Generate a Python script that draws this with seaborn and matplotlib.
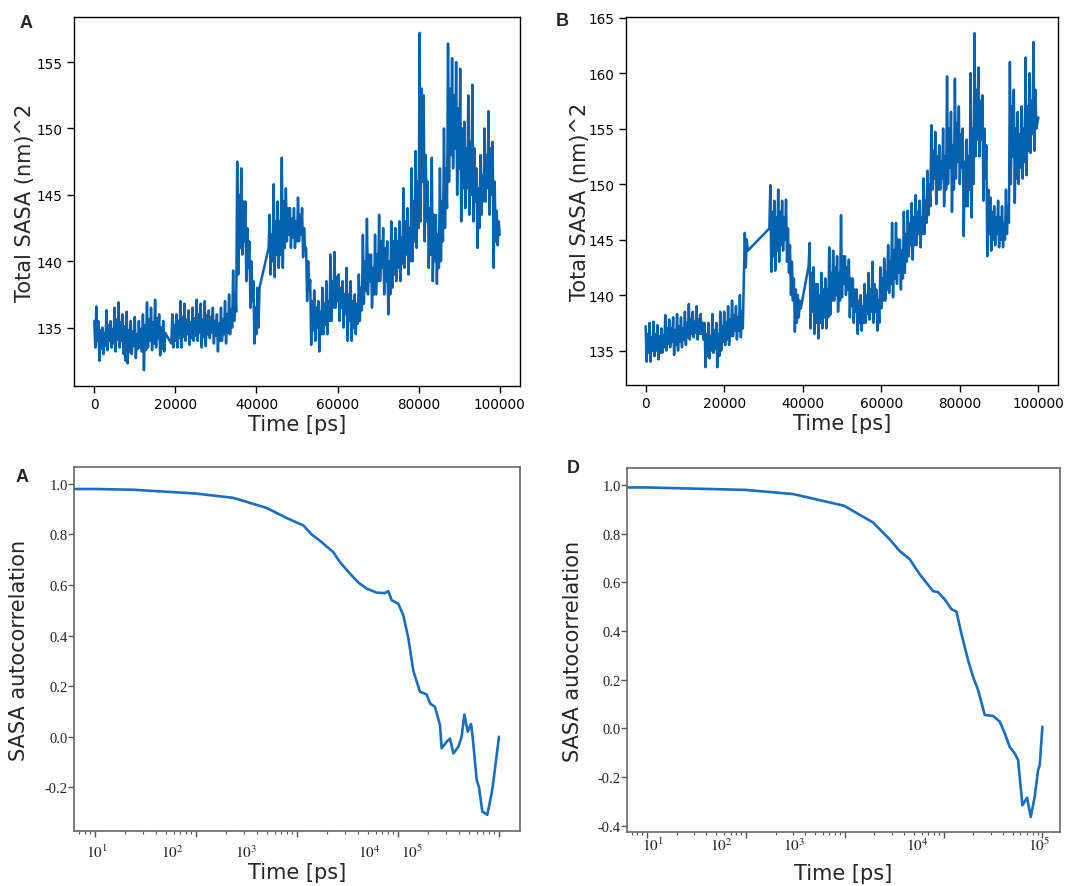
import numpy as np
import pandas as pd
import matplotlib
matplotlib.use("Agg")
import matplotlib.pyplot as plt
import matplotlib.transforms as mtransforms
import seaborn as sns
from matplotlib.ticker import FixedLocator, LogLocator, NullFormatter

# ---------------- data ----------------
# Top panels: SASA time series.
# Each segment = (start time in ns, values every 0.25 ns); gaps between segments
# are bridged by a straight line, as in the original trajectory plot.
sasa_A_seg1_start = 0.0
sasa_A_seg1 = [
    135.5, 133.5, 136.6, 134.0, 135.5, 132.5, 134.8, 133.4, 135.0, 133.0, 134.6, 133.6,
    136.3, 133.3, 135.2, 134.0, 135.5, 133.5, 134.9, 133.8, 136.5, 133.2, 135.6, 134.1,
    136.9, 133.5, 135.4, 134.0, 136.0, 133.0, 135.1, 132.5, 136.2, 132.3, 134.8, 133.2,
    135.5, 133.0, 134.7, 133.6, 135.8, 132.7, 134.5, 133.4, 135.5, 133.5, 134.9, 133.2,
    136.0, 131.8, 135.2, 133.3, 136.9, 133.5, 135.6, 134.0, 136.5, 133.3, 135.4, 133.8,
    137.1, 133.5, 135.7, 134.2, 136.0, 132.9, 135.0, 133.4, 135.5, 133.2, 134.6]
sasa_A_seg2_start = 19.0
sasa_A_seg2 = [
    133.8,
    136.0, 133.5, 135.2, 134.0, 136.0, 133.5, 135.5, 134.2, 137.0, 133.5, 135.8, 134.3,
    136.8, 134.0, 135.6, 134.5, 136.3, 133.7, 135.4, 134.2, 136.5, 134.0, 135.7, 134.4,
    137.1, 134.0, 136.0, 134.6, 136.8, 133.5, 135.6, 134.3, 137.0, 133.6, 135.9, 134.5,
    136.3, 134.2, 135.8, 134.6, 136.5, 133.8, 135.5, 134.4, 136.0, 133.2, 135.3, 134.0,
    136.5, 134.0, 135.6, 134.5, 137.0, 133.8, 136.0, 134.6, 137.5, 134.5, 136.4, 135.0,
    139.3, 135.5, 137.5, 136.2, 147.5, 139.0, 145.0, 141.0, 147.0, 140.5, 144.5, 141.5,
    144.5, 138.5, 142.5, 139.5, 141.5, 136.5, 140.0, 137.0, 138.5, 133.8, 136.5, 134.5,
    138.0, 135.0, 138.0]
sasa_A_seg3_start = 43.0
sasa_A_seg3 = [
    141.0,
    143.5, 139.0, 142.0, 140.0, 145.8, 138.8, 143.0, 140.5, 144.5, 139.5, 143.0, 140.5,
    147.8, 139.5, 144.5, 141.0, 145.5, 141.5, 144.0, 142.0, 144.0, 141.0, 143.2, 141.8,
    144.0, 141.0, 143.0, 141.5, 144.8, 141.5, 143.5, 142.0, 144.0, 140.3, 142.5, 140.8,
    141.0, 137.0, 140.0, 137.8, 138.6, 133.7, 137.0, 134.8, 137.8, 134.0, 136.5, 135.0,
    137.0, 133.2, 136.2, 134.5, 138.0, 134.5, 136.8, 135.2, 138.5, 134.5, 137.0, 135.5,
    140.5, 135.5, 138.5, 136.5, 140.7, 136.5, 138.8, 137.0, 139.0, 135.5, 138.0, 136.5,
    138.5, 135.0, 137.5, 136.0, 139.5, 134.0, 137.5, 135.5, 138.5, 134.0, 137.0, 135.0,
    137.5, 134.5, 136.8, 135.3, 139.0, 135.5, 138.0, 136.3, 142.0, 136.8, 140.0, 137.8,
    143.2, 137.5, 140.5, 138.5, 140.5, 136.5, 139.5, 137.5, 142.0, 137.5, 140.5, 138.5,
    143.5, 138.5, 141.5, 139.5, 142.5, 137.5, 141.0, 138.5, 141.5, 136.0, 140.0, 137.5,
    143.0, 138.0, 141.5, 139.0, 142.5, 138.5, 141.5, 139.5, 143.0, 138.5, 141.8, 139.8,
    145.5, 139.5, 143.0, 140.5, 144.0, 139.0, 142.5, 140.0, 147.0, 140.0, 144.5, 141.5,
    148.3, 141.0, 146.0, 142.5, 157.2, 143.0, 153.0, 146.0, 152.5, 141.5, 148.0, 143.0,
    146.0, 139.5, 144.0, 140.5, 147.8, 138.5, 143.5, 140.0, 143.5, 138.3, 142.0, 139.5,
    147.0, 140.0, 144.5, 141.5, 150.0, 142.5, 147.0, 144.0, 156.4, 146.0, 153.0, 148.0,
    155.3, 147.0, 152.5, 148.5, 155.0, 145.0, 151.5, 147.0, 154.5, 143.0, 150.0, 145.5,
    150.5, 144.0, 148.5, 145.5, 152.5, 143.5, 149.0, 145.0, 153.3, 143.0, 148.5, 144.5,
    147.0, 141.0, 145.5, 142.5, 148.0, 143.5, 146.5, 144.5, 150.0, 144.5, 148.0, 145.5,
    151.3, 143.5, 148.5, 145.0, 149.0, 139.5, 146.0, 141.5, 143.8, 141.2, 143.0, 142.0]

sasa_B_seg1_start = 0.0
sasa_B_seg1 = [
    137.2, 134.0, 136.5, 134.8, 137.5, 134.0, 136.2, 135.0, 137.6, 134.5, 136.5, 135.0,
    137.3, 134.2, 136.3, 134.8, 137.0, 134.8, 136.4, 135.3, 138.2, 135.0, 137.0, 135.6,
    137.8, 135.3, 137.0, 135.8, 138.0, 134.6, 136.8, 135.5, 138.3, 135.0, 137.2, 135.8,
    138.0, 135.3, 137.0, 136.0, 138.5, 135.5, 137.5, 136.2, 139.2, 136.0, 137.8, 136.5,
    138.5, 136.2, 137.6, 136.6, 139.0, 136.0, 137.8, 136.5, 138.3, 136.5, 137.5, 136.0,
    137.5, 133.5, 136.5, 134.5, 137.5, 134.3, 136.3, 135.0, 138.3, 134.8, 136.8, 135.2,
    137.5, 133.5, 136.5, 134.5, 138.5, 135.0, 137.2, 135.8, 138.5, 135.5, 137.5, 136.0,
    139.0, 135.5, 137.8, 136.3, 139.5, 136.3, 138.2, 136.8, 139.0, 136.0, 138.0, 136.8,
    140.0, 136.2, 138.5, 137.0, 141.5, 145.6, 142.5, 145.0, 144.0]
sasa_B_seg2_start = 31.5
sasa_B_seg2 = [
    146.0,
    149.9, 142.1, 147.5, 143.5, 148.5, 142.2, 147.0, 144.0, 149.5, 143.0, 147.5, 144.5,
    148.5, 144.0, 147.0, 145.0, 148.6, 143.0, 146.0, 142.0, 144.5, 140.0, 143.0, 139.5,
    141.5, 136.7, 140.5, 137.5, 140.0, 138.0, 139.5, 138.8]
sasa_B_seg3_start = 41.5
sasa_B_seg3 = [
    142.6,
    144.7, 137.0, 142.0, 138.5, 142.5, 136.5, 141.0, 137.5, 141.0, 136.1, 140.0, 137.5,
    142.0, 137.0, 140.5, 138.0, 141.5, 137.0, 140.5, 138.0, 144.3, 138.2, 142.0, 139.5,
    144.0, 139.5, 142.5, 140.0, 143.5, 138.5, 142.0, 139.5, 147.2, 139.8, 143.5, 141.0,
    143.5, 140.0, 142.5, 140.5, 143.2, 138.0, 141.5, 139.0, 141.5, 137.5, 140.5, 138.5,
    140.5, 136.5, 139.5, 137.5, 140.0, 136.8, 139.0, 137.5, 141.0, 137.5, 140.0, 138.3,
    142.0, 137.8, 140.5, 138.5, 143.0, 137.5, 141.0, 138.5, 140.5, 136.8, 139.5, 137.5,
    142.5, 138.8, 141.5, 139.5, 143.3, 139.5, 142.0, 140.5, 144.5, 140.2, 143.0, 141.0,
    146.5, 139.8, 144.0, 141.5, 146.5, 141.0, 145.0, 142.0, 145.0, 140.5, 144.0, 141.5,
    147.5, 142.0, 145.5, 143.0, 147.6, 143.5, 146.5, 144.5, 148.3, 143.2, 147.0, 144.5,
    149.0, 144.5, 147.5, 145.5, 148.5, 144.3, 147.0, 145.5, 150.5, 145.5, 148.5, 146.5,
    151.2, 147.2, 150.0, 148.0, 155.3, 149.5, 153.0, 150.5, 154.7, 148.2, 152.5, 149.5,
    153.5, 149.5, 152.0, 150.5, 155.0, 148.0, 152.5, 149.5, 159.7, 150.0, 155.0, 151.5,
    156.5, 147.5, 153.5, 149.5, 159.5, 150.5, 155.5, 152.0, 157.0, 150.0, 154.5, 151.5,
    155.0, 145.3, 152.0, 148.0, 154.0, 148.0, 152.5, 149.5, 160.0, 147.0, 155.0, 150.0,
    163.6, 152.5, 158.5, 154.0, 160.5, 152.5, 157.5, 154.0, 158.0, 148.5, 155.0, 150.5,
    153.5, 143.5, 149.5, 145.5, 148.8, 144.0, 147.5, 145.0, 148.0, 144.5, 147.0, 145.5,
    148.5, 144.3, 147.0, 145.0, 148.0, 144.3, 146.5, 145.0, 149.5, 145.5, 148.0, 146.5,
    161.0, 150.0, 157.0, 152.5, 158.5, 148.3, 155.0, 150.5, 156.5, 150.0, 154.5, 151.5,
    157.0, 150.5, 155.0, 152.0, 161.4, 150.8, 157.0, 153.0, 160.0, 152.8, 157.5, 154.5,
    162.8, 153.0, 158.5, 155.0, 155.5, 156.0]

# Autocorrelation panels (bottom)
acf_A_time = [6.19, 10, 24, 100, 234, 501, 791, 1156, 1397, 1690, 2291, 2667, 3350,
              4049, 4898, 6152, 7430, 8017, 8650, 10070, 11290, 12650, 14190, 16520,
              19230, 20750, 23230, 26060, 27040, 30340, 32730, 35320, 39550, 42660,
              45390, 48980, 52840, 54830, 60120, 63390, 68390, 76560, 83370, 86500,
              100000]
acf_A = [0.980, 0.980, 0.977, 0.962, 0.945, 0.905, 0.865, 0.836, 0.800, 0.775, 0.730,
         0.690, 0.645, 0.610, 0.586, 0.570, 0.568, 0.576, 0.540, 0.526, 0.480, 0.390,
         0.260, 0.178, 0.167, 0.132, 0.118, 0.046, -0.046, -0.020, -0.007, -0.066,
         -0.040, 0.000, 0.088, 0.020, 0.050, 0.000, -0.171, -0.200, -0.296, -0.309,
         -0.237, -0.200, 0.000]

acf_D_time = [6.28, 10, 99, 300, 984, 1936, 2851, 3597, 4550, 5741, 7834, 8790, 10280,
              12000, 13490, 15140, 17700, 19860, 22340, 26120, 31700, 36980, 41590,
              46670, 52480, 56750, 62810, 69980, 76210, 83560, 90360, 93970, 100000]
acf_D = [0.990, 0.990, 0.980, 0.963, 0.915, 0.846, 0.777, 0.729, 0.695, 0.633, 0.564,
         0.560, 0.530, 0.490, 0.480, 0.390, 0.280, 0.213, 0.158, 0.055, 0.051, 0.028,
         -0.020, -0.076, -0.103, -0.130, -0.316, -0.285, -0.364, -0.282, -0.172,
         -0.151, 0.007]

top_xticks = [0, 20000, 40000, 60000, 80000, 100000]
yticks_A = [135, 140, 145, 150, 155]
yticks_B = [135, 140, 145, 150, 155, 160, 165]
acf_yticks_A = [-0.2, 0.0, 0.2, 0.4, 0.6, 0.8, 1.0]
acf_yticks_D = [-0.4, -0.2, 0.0, 0.2, 0.4, 0.6, 0.8, 1.0]
decade_ticks = [10, 100, 1000, 10000, 100000]
decade_labels = [r"$10^{1}$", r"$10^{2}$", r"$10^{3}$", r"$10^{4}$", r"$10^{5}$"]
# where the decade labels sit (log10 position) in the reference
label_pos_A = [1.017, 1.76, 2.50, 3.72, 4.14]
label_pos_D = [1.06, 1.75, 2.49, 3.73, 4.97]


def build_series(segments):
    ts, vs = [], []
    for start, vals in segments:
        ts.extend(list(start * 1000 + 250 * np.arange(len(vals))))
        vs.extend(vals)
    return pd.DataFrame({"time": ts, "sasa": vs})


df_A = build_series([(sasa_A_seg1_start, sasa_A_seg1),
                     (sasa_A_seg2_start, sasa_A_seg2),
                     (sasa_A_seg3_start, sasa_A_seg3)])
df_B = build_series([(sasa_B_seg1_start, sasa_B_seg1),
                     (sasa_B_seg2_start, sasa_B_seg2),
                     (sasa_B_seg3_start, sasa_B_seg3)])
df_acfA = pd.DataFrame({"time": acf_A_time, "acf": acf_A})
df_acfD = pd.DataFrame({"time": acf_D_time, "acf": acf_D})

# ---------------- style ----------------
sns.set_style("white")
plt.rcParams['font.family'] = ['DejaVu Sans']
plt.rcParams['mathtext.fontset'] = 'stix'

W, H = 1069, 887
fig = plt.figure(figsize=(W / 100, H / 100), dpi=100)


def add_ax(l, r, t, b):
    return fig.add_axes([l / W, 1 - b / H, (r - l) / W, (b - t) / H])


ax_A = add_ax(74, 520, 18, 387)
ax_B = add_ax(626, 1058, 18, 386)
ax_C = add_ax(74, 520, 468, 832)
ax_D = add_ax(627, 1060, 469, 833)

line_top = "#0461ae"
line_bot = "#1a6ebd"

# ---- top panels ----
for ax, df, yt, ylim, ylx in [(ax_A, df_A, yticks_A, (130.6, 158.4), -0.110),
                              (ax_B, df_B, yticks_B, (131.9, 165.05), -0.106)]:
    sns.lineplot(data=df, x="time", y="sasa", ax=ax, color=line_top, lw=1.8,
                 estimator=None, sort=False)
    ax.set_xlim(-5000, 105000)
    ax.set_ylim(*ylim)
    ax.set_xticks(top_xticks, [str(v) for v in top_xticks])
    ax.set_yticks(yt, [str(v) for v in yt])
    ax.tick_params(axis="both", direction="out", length=5, width=1, colors="black",
                   labelsize=9.8, pad=3, left=True, bottom=True)
    for s in ax.spines.values():
        s.set_color("black")
        s.set_linewidth(1.0)
    ax.set_xlabel("Time [ps]", fontsize=15)
    ax.set_ylabel("Total SASA (nm)^2", fontsize=15)
    ax.xaxis.label.set_va("center")
    ax.yaxis.label.set_va("center")
    ax.xaxis.set_label_coords(0.5, -0.103)
    ax.yaxis.set_label_coords(ylx, 0.5)

# ---- bottom panels ----
for ax, df, yt, ylim, xlim, lpos, ly, ylx, xly in [
        (ax_C, df_acfA, acf_yticks_A, (-0.373, 1.067), (10 ** 0.792, 10 ** 5.208),
         label_pos_A, -0.056, -0.123, -0.113),
        (ax_D, df_acfD, acf_yticks_D, (-0.426, 1.07), (10 ** 0.798, 10 ** 5.178),
         label_pos_D, -0.035, -0.125, -0.113)]:
    sns.lineplot(data=df, x="time", y="acf", ax=ax, color=line_bot, lw=1.9,
                 estimator=None, sort=False)
    ax.set_xscale("log")
    ax.set_xlim(*xlim)
    ax.set_ylim(*ylim)
    ax.xaxis.set_major_locator(FixedLocator(decade_ticks))
    ax.xaxis.set_major_formatter(NullFormatter())
    ax.xaxis.set_minor_locator(LogLocator(base=10, subs=np.arange(2, 10)))
    ax.xaxis.set_minor_formatter(NullFormatter())
    ax.set_yticks(yt, ["%.1f" % v if v != 0 else "0.0" for v in yt],
                  fontfamily="Liberation Serif", fontsize=10.5)
    ax.tick_params(axis="y", direction="out", length=4, width=1, colors="#555555",
                   labelcolor="#222222", pad=0.5, left=True)
    ax.tick_params(axis="x", which="major", direction="out", length=4.5, width=1,
                   colors="#555555", bottom=True)
    ax.tick_params(axis="x", which="minor", direction="out", length=2.5, width=0.8,
                   colors="#555555", bottom=True)
    for s in ax.spines.values():
        s.set_color("#666666")
        s.set_linewidth(1.2)
    trans = mtransforms.blended_transform_factory(ax.transData, ax.transAxes)
    for p, lab in zip(lpos, decade_labels):
        ax.text(10 ** p, ly, lab, transform=trans, ha="center", va="center",
                fontsize=11, color="#222222")
    ax.set_xlabel("Time [ps]", fontsize=15)
    ax.set_ylabel("SASA autocorrelation", fontsize=15)
    ax.xaxis.label.set_va("center")
    ax.yaxis.label.set_va("center")
    ax.xaxis.set_label_coords(0.5, xly)
    ax.yaxis.set_label_coords(ylx, 0.5)

# panel letters
for x, y, t in [(26, 24, "A"), (562, 22, "B"), (22, 478, "A"), (573, 469, "D")]:
    fig.text(x / W, 1 - y / H, t, fontsize=13, fontweight="bold",
             family="Liberation Sans", ha="center", va="center")

fig.savefig("out.png", dpi=100)
